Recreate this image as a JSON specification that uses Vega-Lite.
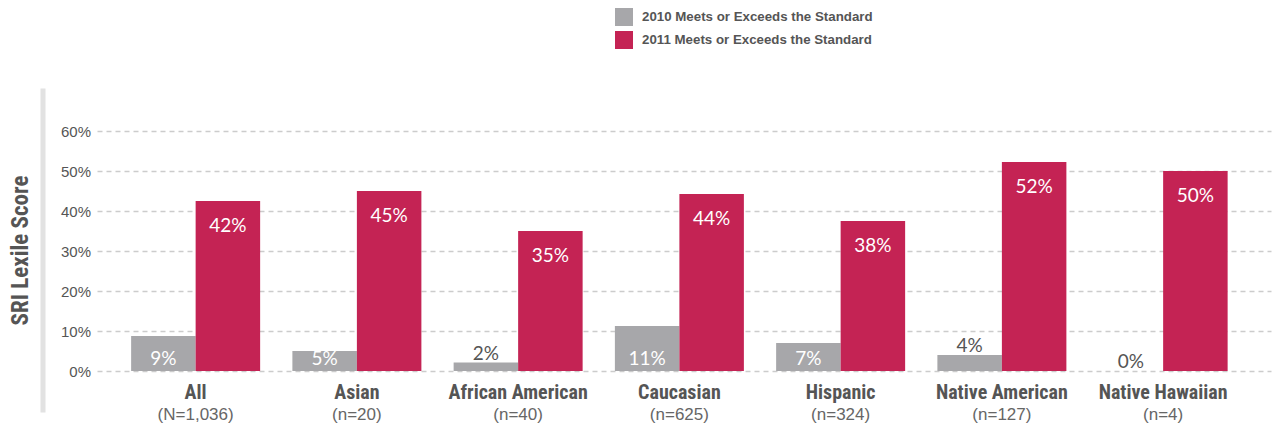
{
  "$schema": "https://vega.github.io/schema/vega-lite/v6.json",
  "width": 1174,
  "height": 324,
  "autosize": {"type": "none"},
  "padding": {"left": 97, "top": 88, "right": 7, "bottom": 14},
  "background": "white",
  "config": {"view": {"stroke": null}},
  "data": {
    "values": [
      {"group": "All", "n": "(N=1,036)", "series": "2010 Meets or Exceeds the Standard", "value": 8.75, "label": "9%"},
      {"group": "All", "n": "(N=1,036)", "series": "2011 Meets or Exceeds the Standard", "value": 42.5, "label": "42%"},
      {"group": "Asian", "n": "(n=20)", "series": "2010 Meets or Exceeds the Standard", "value": 5, "label": "5%"},
      {"group": "Asian", "n": "(n=20)", "series": "2011 Meets or Exceeds the Standard", "value": 45, "label": "45%"},
      {"group": "African American", "n": "(n=40)", "series": "2010 Meets or Exceeds the Standard", "value": 2.1, "label": "2%"},
      {"group": "African American", "n": "(n=40)", "series": "2011 Meets or Exceeds the Standard", "value": 35, "label": "35%"},
      {"group": "Caucasian", "n": "(n=625)", "series": "2010 Meets or Exceeds the Standard", "value": 11.25, "label": "11%"},
      {"group": "Caucasian", "n": "(n=625)", "series": "2011 Meets or Exceeds the Standard", "value": 44.25, "label": "44%"},
      {"group": "Hispanic", "n": "(n=324)", "series": "2010 Meets or Exceeds the Standard", "value": 7, "label": "7%"},
      {"group": "Hispanic", "n": "(n=324)", "series": "2011 Meets or Exceeds the Standard", "value": 37.5, "label": "38%"},
      {"group": "Native American", "n": "(n=127)", "series": "2010 Meets or Exceeds the Standard", "value": 4, "label": "4%"},
      {"group": "Native American", "n": "(n=127)", "series": "2011 Meets or Exceeds the Standard", "value": 52.25, "label": "52%"},
      {"group": "Native Hawaiian", "n": "(n=4)", "series": "2010 Meets or Exceeds the Standard", "value": 0, "label": "0%"},
      {"group": "Native Hawaiian", "n": "(n=4)", "series": "2011 Meets or Exceeds the Standard", "value": 50, "label": "50%"}
    ]
  },
  "encoding": {
    "x": {
      "field": "group",
      "type": "nominal",
      "sort": null,
      "scale": {"paddingInner": 0, "paddingOuter": 0.1403, "align": 0.398},
      "axis": {
        "orient": "bottom",
        "offset": -34,
        "title": null,
        "domain": false,
        "ticks": false,
        "grid": false,
        "labelAngle": 0,
        "labelPadding": 4,
        "labelBaseline": "top",
        "labelFont": "Roboto Condensed, Liberation Sans, sans-serif",
        "labelFontWeight": "bold",
        "labelFontSize": 20,
        "labelColor": "#555555",
        "labelLimit": 300
      }
    }
  },
  "layer": [
    {
      "mark": {"type": "bar"},
      "encoding": {
        "xOffset": {"field": "series", "type": "nominal", "scale": {"paddingInner": 0, "paddingOuter": 0.25}},
        "y": {
          "field": "value",
          "type": "quantitative",
          "scale": {"domain": [-10.25, 70.75], "nice": false, "zero": false},
          "axis": {
            "values": [0, 10, 20, 30, 40, 50, 60],
            "labelExpr": "datum.value + '%'",
            "grid": true,
            "gridColor": "#cccccc",
            "gridDash": [5, 4],
            "gridWidth": 1.5,
            "domain": true,
            "domainColor": "#e2e2e2",
            "domainWidth": 5,
            "offset": 54.5,
            "ticks": false,
            "labelPadding": -48,
            "labelFont": "Liberation Sans, sans-serif",
            "labelFontSize": 15,
            "labelColor": "#555555",
            "title": "SRI Lexile Score",
            "titleFont": "Roboto Condensed, Liberation Sans, sans-serif",
            "titleFontWeight": "bold",
            "titleFontSize": 23,
            "titleColor": "#555555",
            "titlePadding": 10,
            "minExtent": 0
          }
        },
        "color": {
          "field": "series",
          "type": "nominal",
          "scale": {
            "domain": ["2010 Meets or Exceeds the Standard", "2011 Meets or Exceeds the Standard"],
            "range": ["#a7a7aa", "#c42354"]
          },
          "legend": {
            "orient": "none",
            "legendX": 518,
            "legendY": -80,
            "title": null,
            "direction": "vertical",
            "symbolType": "square",
            "symbolSize": 324,
            "symbolStrokeWidth": 0,
            "symbolOpacity": 1,
            "labelFont": "Liberation Sans, sans-serif",
            "labelFontWeight": "bold",
            "labelFontSize": 13.3,
            "labelColor": "#555555",
            "labelOffset": 9,
            "labelLimit": 400,
            "rowPadding": 5
          }
        }
      }
    },
    {
      "transform": [{"filter": "datum.value >= 20"}],
      "mark": {"type": "text", "baseline": "top", "dy": 16, "color": "#ffffff", "font": "Lato, sans-serif", "fontSize": 19},
      "encoding": {
        "xOffset": {"field": "series", "type": "nominal", "scale": {"paddingInner": 0, "paddingOuter": 0.25}},
        "y": {"field": "value", "type": "quantitative"},
        "text": {"field": "label"}
      }
    },
    {
      "transform": [{"filter": "datum.value >= 5 && datum.value < 20"}],
      "mark": {"type": "text", "baseline": "alphabetic", "dy": -6, "color": "#ffffff", "font": "Lato, sans-serif", "fontSize": 19},
      "encoding": {
        "xOffset": {"field": "series", "type": "nominal", "scale": {"paddingInner": 0, "paddingOuter": 0.25}},
        "y": {"datum": 0, "type": "quantitative"},
        "text": {"field": "label"}
      }
    },
    {
      "transform": [{"filter": "datum.value < 5"}],
      "mark": {"type": "text", "baseline": "alphabetic", "dy": -3, "color": "#555555", "font": "Lato, sans-serif", "fontSize": 19},
      "encoding": {
        "xOffset": {"field": "series", "type": "nominal", "scale": {"paddingInner": 0, "paddingOuter": 0.25}},
        "y": {"field": "value", "type": "quantitative"},
        "text": {"field": "label"}
      }
    },
    {
      "transform": [{"filter": "datum.series == '2010 Meets or Exceeds the Standard'"}],
      "mark": {"type": "text", "baseline": "middle", "dy": 44, "color": "#666666", "font": "Liberation Sans, sans-serif", "fontSize": 17},
      "encoding": {
        "y": {"datum": 0, "type": "quantitative"},
        "text": {"field": "n"}
      }
    }
  ]
}
